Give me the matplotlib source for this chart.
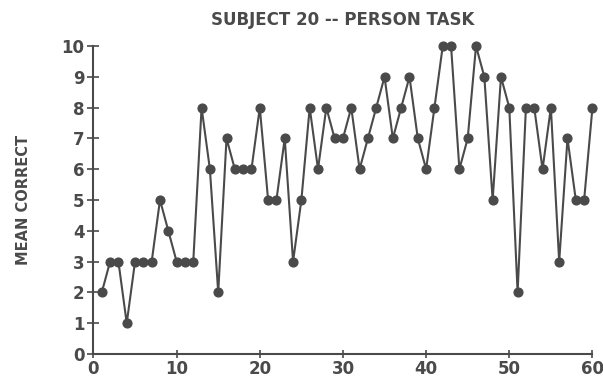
import matplotlib
matplotlib.use("Agg")
import matplotlib.pyplot as plt

sessions = list(range(1, 61))
mean_correct = [2, 3, 3, 1, 3, 3, 3, 5, 4, 3,
                3, 3, 8, 6, 2, 7, 6, 6, 6, 8,
                5, 5, 7, 3, 5, 8, 6, 8, 7, 7,
                8, 6, 7, 8, 9, 7, 8, 9, 7, 6,
                8, 10, 10, 6, 7, 10, 9, 5, 9, 8,
                2, 8, 8, 6, 8, 3, 7, 5, 5, 8]
x_ticks = [0, 10, 20, 30, 40, 50, 60]
y_ticks = list(range(0, 11))
title = "SUBJECT 20 -- PERSON TASK"
ylabel = "MEAN CORRECT"

ink = "#4a4a4a"
fig = plt.figure(figsize=(6.03, 3.85), dpi=100)
ax = fig.add_axes([0.155, 0.0805, 0.8275, 0.80])
ax.plot(sessions, mean_correct, color=ink, lw=1.5, marker="o", ms=6.3,
        mfc=ink, mec=ink, clip_on=False, zorder=3)
ax.set_xlim(0, 60)
ax.set_ylim(0, 10)
ax.set_xticks(x_ticks)
ax.set_yticks(y_ticks)
for s in ["top", "right"]:
    ax.spines[s].set_visible(False)
for s in ["left", "bottom"]:
    ax.spines[s].set_color(ink)
    ax.spines[s].set_linewidth(1.5)
ax.tick_params(axis="y", direction="inout", length=9, width=1.2, colors=ink,
               labelsize=12, pad=2)
ax.tick_params(axis="x", direction="inout", length=6, width=1.2, colors=ink,
               labelsize=12, pad=1)
for lab in ax.get_xticklabels() + ax.get_yticklabels():
    lab.set_fontweight("bold")
ax.set_title(title, fontsize=12, fontweight="bold", color=ink, pad=15)
ax.set_ylabel(ylabel, fontsize=10.5, fontweight="bold", color=ink, labelpad=22)
fig.savefig("out.png", dpi=100)
